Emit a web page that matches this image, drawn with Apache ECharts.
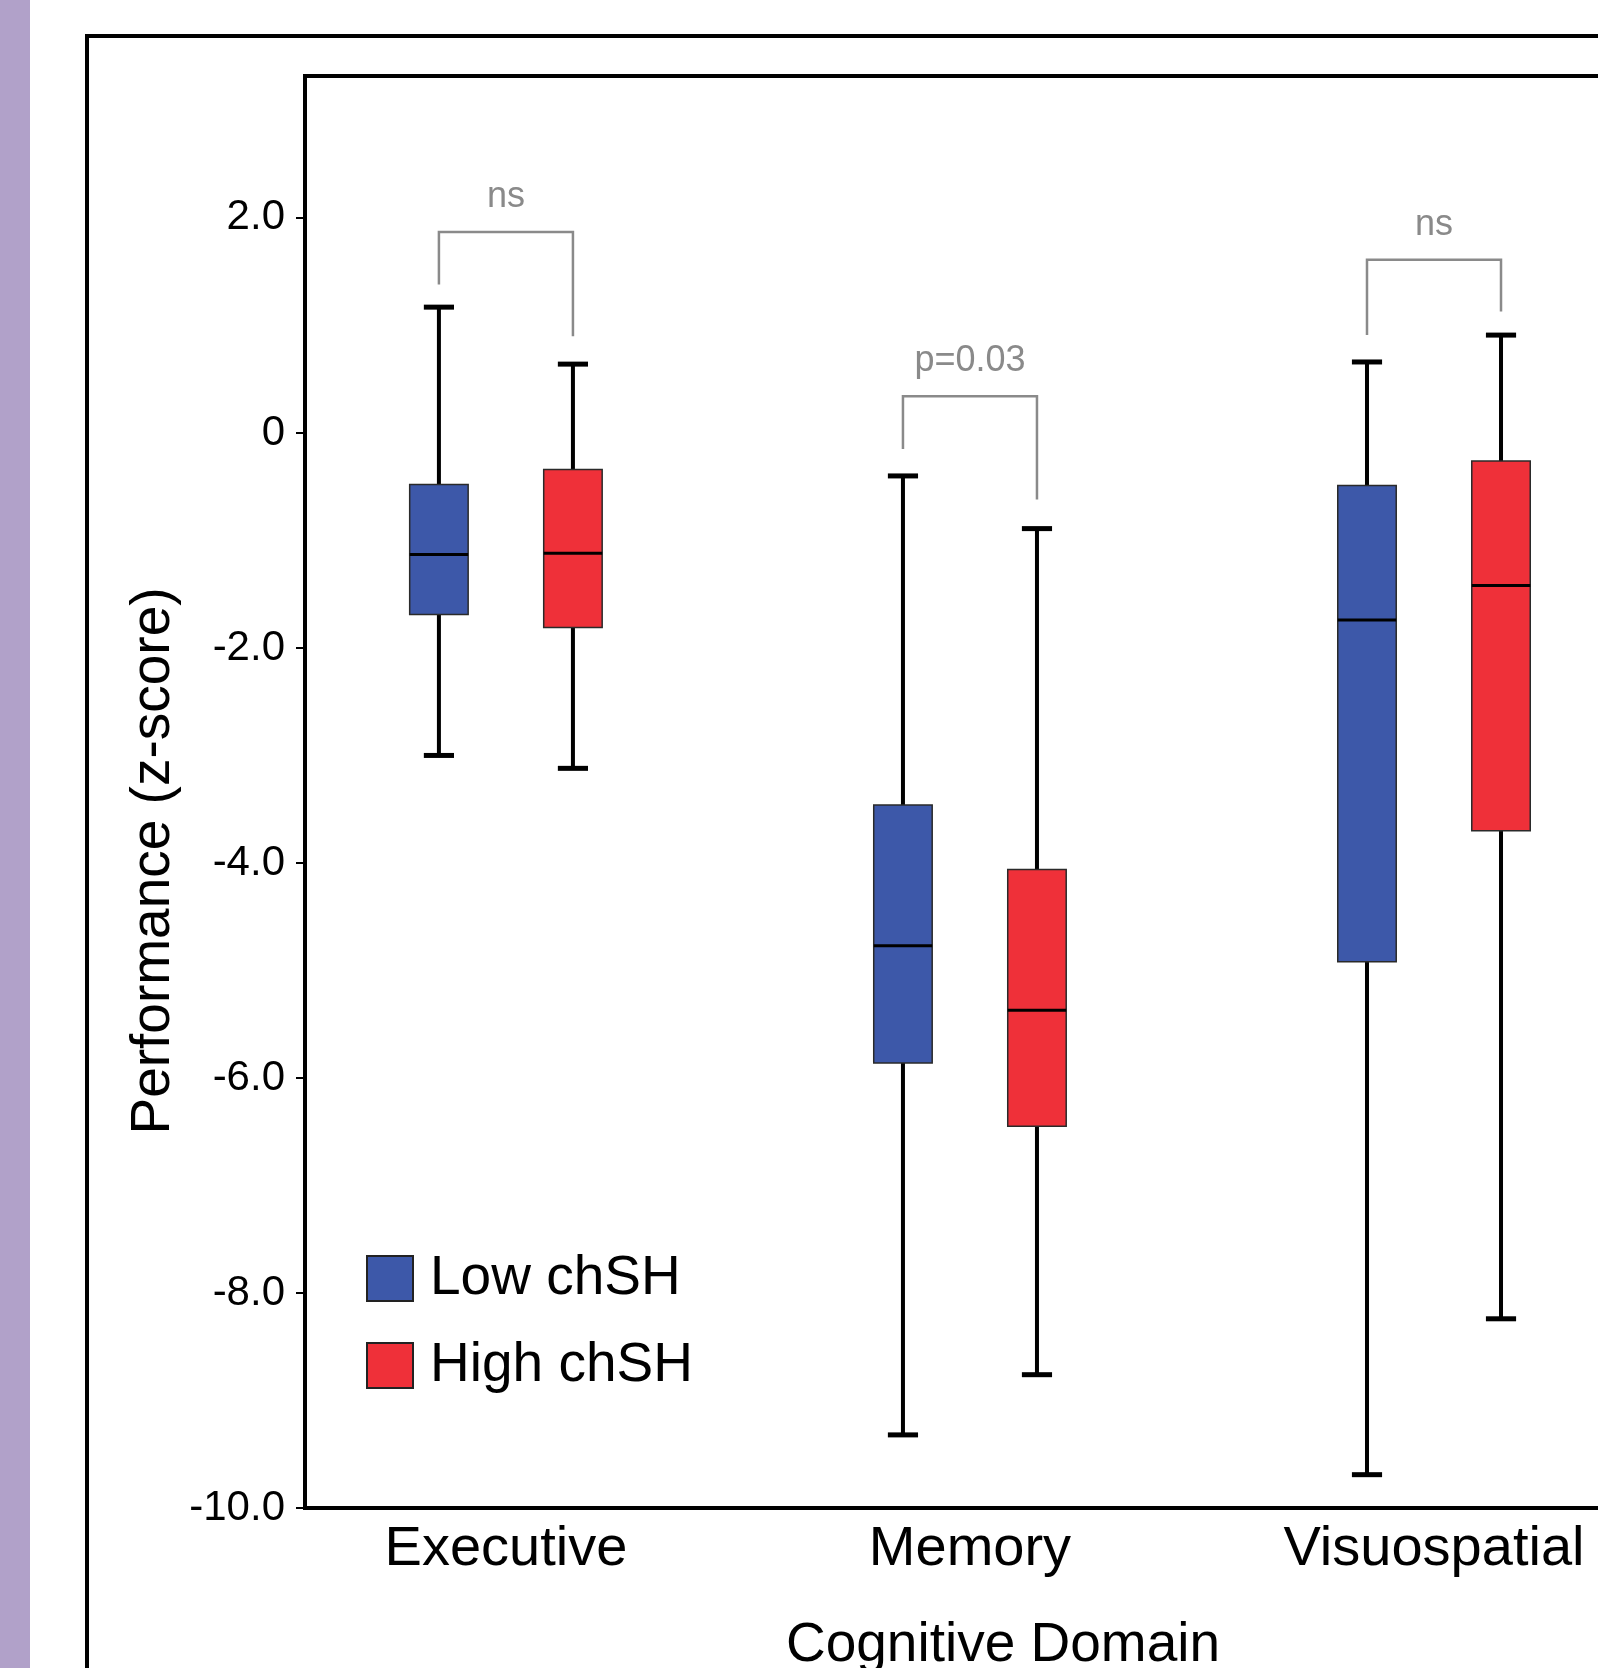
<!DOCTYPE html>
<html>
<head>
<meta charset="utf-8">
<script src="https://cdn.jsdelivr.net/npm/echarts@6/dist/echarts.min.js"></script>
<style>
	html, body { margin: 0; padding: 0; background: #fff; overflow: hidden; }
	#chart { width: 1598px; height: 1668px; }
</style>
</head>
<body>
<div id="chart"></div>
<script>
	// categories
	var domains = ['Executive', 'Memory', 'Visuospatial'];
	var seriesNames = ['Low chSH', 'High chSH'];
	// five-number summary per domain: [min, Q1, median, Q3, max]
	var lowChSH = [
		[-3.00, -1.69, -1.13, -0.48, 1.17],
		[-9.32, -5.86, -4.77, -3.46, -0.40],
		[-9.69, -4.92, -1.74, -0.49, 0.66]
	];
	var highChSH = [
		[-3.12, -1.81, -1.12, -0.34, 0.64],
		[-8.76, -6.45, -5.37, -4.06, -0.89],
		[-8.24, -3.70, -1.42, -0.26, 0.91]
	];
	// significance brackets
	var bracketLeftEnd = [1.38, -0.15, 0.91];
	var bracketTop = [1.87, 0.34, 1.61];
	var bracketRightEnd = [0.90, -0.62, 1.13];
	var bracketLabel = ['ns', 'p=0.03', 'ns'];
	// y tick labels
	var yTicks = [-10, -8, -6, -4, -2, 0, 2];

	var font = "'Liberation Sans', Arial, sans-serif";
	var groupShift = 0.1444; // half distance between low / high box
	var boxWidth = 0.126;
	var capWidth = 0.065;

	function boxRenderer(shift) {
		return function(params, api) {
			var x = api.value(0) + shift;
			var half = api.size([boxWidth, 0])[0] / 2;
			var cap = api.size([capWidth, 0])[0] / 2;
			var bot = api.coord([x, api.value(1)]);
			var q1 = api.coord([x, api.value(2)]);
			var med = api.coord([x, api.value(3)]);
			var q3 = api.coord([x, api.value(4)]);
			var top = api.coord([x, api.value(5)]);
			var color = api.visual('color');
			return {
				type: 'group',
				children: [{
					type: 'line',
					shape: { x1: top[0], y1: top[1], x2: bot[0], y2: bot[1] },
					style: { stroke: '#000', lineWidth: 4 }
				}, {
					type: 'line',
					shape: { x1: top[0] - cap, y1: top[1], x2: top[0] + cap, y2: top[1] },
					style: { stroke: '#000', lineWidth: 5 }
				}, {
					type: 'line',
					shape: { x1: bot[0] - cap, y1: bot[1], x2: bot[0] + cap, y2: bot[1] },
					style: { stroke: '#000', lineWidth: 5 }
				}, {
					type: 'rect',
					shape: { x: q3[0] - half, y: q3[1], width: half * 2, height: q1[1] - q3[1] },
					style: { fill: color, stroke: '#2a2a2a', lineWidth: 1.5 }
				}, {
					type: 'line',
					shape: { x1: med[0] - half, y1: med[1], x2: med[0] + half, y2: med[1] },
					style: { stroke: '#000', lineWidth: 3 }
				}]
			};
		};
	}

	function bracketRenderer(params, api) {
		var i = api.value(0);
		var l0 = api.coord([i - groupShift, api.value(1)]);
		var l1 = api.coord([i - groupShift, api.value(2)]);
		var r1 = api.coord([i + groupShift, api.value(2)]);
		var r0 = api.coord([i + groupShift, api.value(3)]);
		return {
			type: 'group',
			children: [{
				type: 'polyline',
				shape: { points: [l0, l1, r1, r0] },
				style: { stroke: '#8a8a8a', lineWidth: 2.5, fill: null }
			}, {
				type: 'text',
				x: (l1[0] + r1[0]) / 2,
				y: l1[1] - 17,
				style: {
					text: bracketLabel[params.dataIndex],
					fill: '#8a8a8a',
					font: '36px ' + font,
					align: 'center',
					verticalAlign: 'bottom'
				}
			}]
		};
	}

	var chart = echarts.init(document.getElementById('chart'));
	var option = {
		animation: false,
		backgroundColor: '#fff',
		textStyle: { fontFamily: font },
		graphic: [{
			type: 'rect',
			shape: { x: 0, y: 0, width: 30, height: 1668 },
			style: { fill: '#b1a1c9' }
		}, {
			type: 'rect',
			shape: { x: 87, y: 36, width: 1700, height: 1800 },
			style: { fill: null, stroke: '#000', lineWidth: 4 }
		}, {
			type: 'text',
			x: 154,
			y: 861,
			rotation: Math.PI / 2,
			style: {
				text: 'Performance (z-score)',
				font: '55px ' + font,
				fill: '#000',
				align: 'center',
				verticalAlign: 'middle'
			}
		}, {
			type: 'text',
			x: 1003,
			y: 1646,
			style: {
				text: 'Cognitive Domain',
				font: '55px ' + font,
				fill: '#000',
				align: 'center',
				verticalAlign: 'middle'
			}
		}],
		legend: {
			data: seriesNames,
			orient: 'vertical',
			left: 366,
			top: 1251,
			padding: 0,
			itemWidth: 46,
			itemHeight: 45,
			itemGap: 32,
			icon: 'rect',
			itemStyle: { borderColor: '#222', borderWidth: 2 },
			textStyle: { fontSize: 55, color: '#000', fontFamily: font, padding: [0, 0, 0, 12] },
			selectedMode: false
		},
		grid: {
			left: 305,
			top: 76,
			width: 1400,
			height: 1432,
			outerBoundsMode: 'none',
			show: true,
			borderColor: '#000',
			borderWidth: 4,
			backgroundColor: 'transparent'
		},
		xAxis: {
			type: 'value',
			min: -0.433,
			max: 2.584,
			splitLine: { show: false },
			axisLine: { show: false, onZero: false },
			axisTick: { show: false },
			axisLabel: {
				customValues: [0, 1, 2],
				formatter: function(v) { return domains[Math.round(v)]; },
				fontSize: 56,
				color: '#000',
				margin: 14
			}
		},
		yAxis: {
			type: 'value',
			min: -10,
			max: 3.32,
			splitLine: { show: false },
			axisLine: { show: false, onZero: false },
			axisTick: {
				show: true,
				customValues: yTicks,
				length: 9,
				lineStyle: { color: '#000', width: 2 }
			},
			axisLabel: {
				customValues: yTicks,
				formatter: function(v) { return v === 0 ? '0' : v.toFixed(1); },
				fontSize: 42,
				color: '#000',
				margin: 20
			}
		},
		series: [{
			name: seriesNames[0],
			type: 'custom',
			itemStyle: { color: '#3d58a9' },
			renderItem: boxRenderer(-groupShift),
			data: lowChSH.map(function(v, i) { return [i].concat(v); }),
			z: 3
		}, {
			name: seriesNames[1],
			type: 'custom',
			itemStyle: { color: '#ef3039' },
			renderItem: boxRenderer(groupShift),
			data: highChSH.map(function(v, i) { return [i].concat(v); }),
			z: 3
		}, {
			name: 'brackets',
			type: 'custom',
			renderItem: bracketRenderer,
			data: domains.map(function(d, i) {
				return [i, bracketLeftEnd[i], bracketTop[i], bracketRightEnd[i]];
			}),
			silent: true,
			z: 2
		}]
	};
	chart.setOption(option);
</script>
</body>
</html>
